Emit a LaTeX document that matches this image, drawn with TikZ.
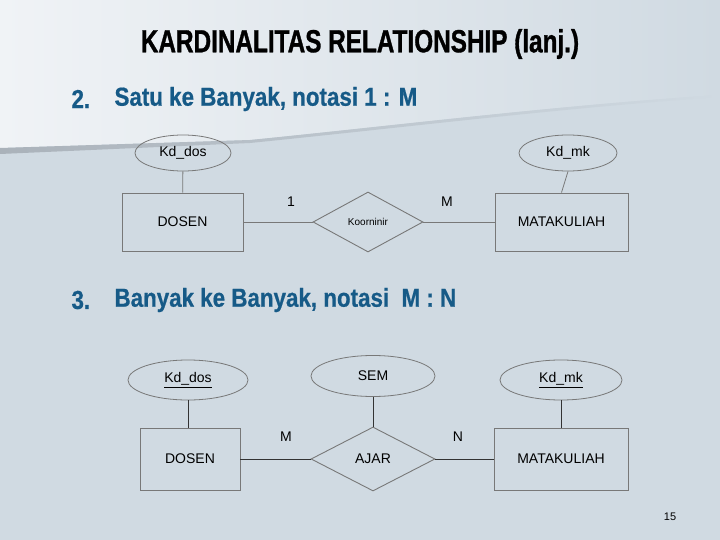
\documentclass[tikz,border=0pt]{standalone}
\usepackage{fontspec}
\setmainfont{Liberation Sans}
\newfontfamily\judulfont[FakeStretch=0.76,FakeBold=1]{Liberation Sans Bold}
\newfontfamily\subjudulfont[FakeStretch=0.86,FakeBold=0.6]{Liberation Sans Bold}
\usetikzlibrary{shapes.geometric}

\definecolor{bgblue}{RGB}{208,218,226}
\definecolor{bglight}{RGB}{240,243,246}
\definecolor{swoosh}{RGB}{170,178,186}
\definecolor{garis}{RGB}{120,120,120}
\definecolor{biru}{RGB}{22,90,135}

\tikzset{
  entitas/.style={draw=garis, line width=0.9pt, minimum height=58pt, font=\fontsize{14}{16}\selectfont},
  atribut/.style={ellipse, draw=garis, line width=0.8pt, font=\fontsize{14}{16}\selectfont},
  relasi/.style={diamond, draw=garis, line width=0.9pt, inner sep=0pt},
  hubung/.style={draw=black!80, line width=0.8pt},
  kard/.style={font=\fontsize{14}{16}\selectfont}
}

\begin{document}
\begin{tikzpicture}[x=1pt, y=-1pt]

            % latar
            \fill[bgblue] (0,0) rectangle (720,540);
            \shade[left color=bglight, right color=bgblue] (0,0) -- (720,0) -- (720,95)
                .. controls (560,105) and (400,125) .. (250,140) -- (0,148) -- cycle;
            \shade[left color=swoosh, right color=bgblue] (0,148) -- (250,140)
                .. controls (400,125) and (560,105) .. (720,95) -- (720,97)
                .. controls (560,108) and (400,128) .. (250,143) -- (0,154) -- cycle;
            \useasboundingbox (0,0) rectangle (720,540);

            % judul
            \node (judul) at (360,44) {\judulfont\fontsize{32}{36}\selectfont KARDINALITAS RELATIONSHIP (lanj.)};
            \node (no2) at (68,99) [anchor=west, text=biru] {\subjudulfont\fontsize{26}{30}\selectfont 2.};
            \node (sub2) at (111,99) [anchor=west, text=biru] {\subjudulfont\fontsize{26}{30}\selectfont Satu ke Banyak, notasi 1 : M};
            \node (no3) at (68,300) [anchor=west, text=biru] {\subjudulfont\fontsize{26}{30}\selectfont 3.};
            \node (sub3) at (111,300) [anchor=west, text=biru] {\subjudulfont\fontsize{26}{30}\selectfont Banyak ke Banyak, notasi\ \ M : N};

            % satu ke banyak
            \node (dos1) at (182.5,222) [entitas, minimum width=121pt] {DOSEN};
            \node (mk1) at (561.5,222) [entitas, minimum width=133pt] {MATAKULIAH};
            \node (koor) at (368,222) [relasi, minimum width=110pt, minimum height=60pt, font=\fontsize{10}{12}\selectfont] {Koorninir};
            \node (kddos1) at (183,153) [atribut, minimum width=96pt, minimum height=36pt] {Kd\_dos};
            \node (kdmk1) at (568,153) [atribut, minimum width=98pt, minimum height=36pt] {Kd\_mk};
            \node (k1) at (291,202) [kard] {1};
            \node (km1) at (447,202) [kard] {M};

            \draw[hubung, draw=garis] (dos1) -- (koor);
            \draw[hubung, draw=garis] (koor) -- (mk1);
            \draw[hubung, draw=garis] (kddos1) -- (dos1);
            \draw[hubung, draw=garis] (kdmk1.south) -- (mk1.north);

            % banyak ke banyak
            \node (dos2) at (190,459) [entitas, minimum width=100pt, minimum height=62pt] {DOSEN};
            \node (mk2) at (561,459) [entitas, minimum width=134pt, minimum height=62pt] {MATAKULIAH};
            \node (ajar) at (373,459) [relasi, minimum width=124pt, minimum height=64pt, font=\fontsize{14}{16}\selectfont] {AJAR};
            \node (kddos2) at (188,380) [atribut, minimum width=120pt, minimum height=40pt] {\underline{Kd\_dos}};
            \node (sem) at (373,376) [atribut, minimum width=124pt, minimum height=41pt] {SEM};
            \node (kdmk2) at (561,380) [atribut, minimum width=122pt, minimum height=40pt] {\underline{Kd\_mk}};
            \node (km2) at (286,437) [kard] {M};
            \node (kn2) at (458,437) [kard] {N};

            \draw[hubung] (dos2) -- (ajar);
            \draw[hubung] (ajar) -- (mk2);
            \draw[hubung] (kddos2.south) -- (kddos2.south |- dos2.north);
            \draw[hubung] (sem) -- (ajar);
            \draw[hubung] (kdmk2) -- (mk2);

            % nomor halaman
            \node (hal) at (670,517) [font=\fontsize{11}{13}\selectfont] {15};
        \end{tikzpicture}
\end{document}
